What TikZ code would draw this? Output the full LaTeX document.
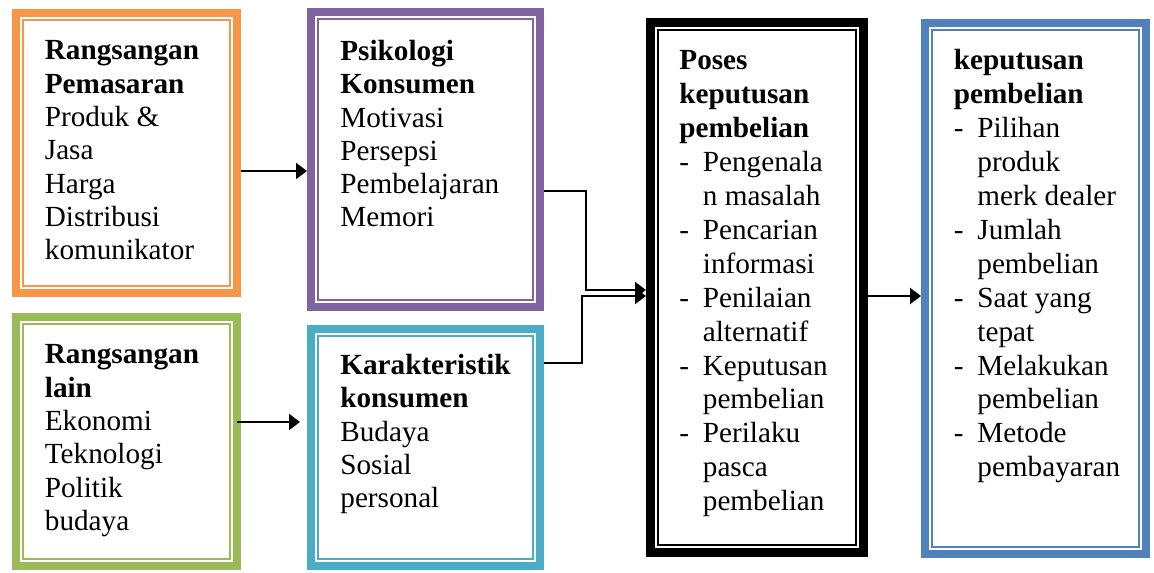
\documentclass[tikz,border=0pt]{standalone}
\usepackage{fontspec}
\setmainfont{Liberation Serif}
\usepackage{tikz}
\usepackage{xcolor}
\usetikzlibrary{arrows.meta,positioning}
\definecolor{boxorange}{RGB}{247,150,70}
\definecolor{boxpurple}{RGB}{128,100,162}
\definecolor{boxgreen}{RGB}{155,187,89}
\definecolor{boxcyan}{RGB}{75,172,198}
\definecolor{boxblue}{RGB}{79,129,189}
\tikzstyle{arrow} = [
    line width=1.1pt,
    -{Triangle[length=5.5pt,width=8pt]},
    draw=black
]
\tikzstyle{frame} = [
    rectangle,
    draw,
    line width=4pt,
    fill=white,
    inner sep=0pt
]
\tikzstyle{boxtext} = [
    anchor=north west,
    inner sep=0pt,
    align=left,
    font=\fontsize{14.6}{16.65}\selectfont
]
\newcommand{\dashitem}{\makebox[11.75pt][l]{-}}
\newcommand{\hangline}{\hspace*{11.75pt}}

\begin{document}
\begin{tikzpicture}[
                x=0.5pt, y=-0.5pt,
                listtext/.style={
                    boxtext,
                    font=\fontsize{14.6}{16.95}\selectfont
                },
                inner line/.style={
                    line width=0.9pt
                }
            ]
                \useasboundingbox (0,0) rectangle (1154,572);
                \node[frame, draw=boxorange, minimum width=110.5pt, minimum height=140pt] (stimulus) at (126.5,153) {};
                \node[frame, draw=boxpurple, minimum width=114.5pt, minimum height=147.5pt] (psych) at (425.5,159.5) {};
                \node[frame, draw=boxgreen, minimum width=110.5pt, minimum height=124.5pt] (other) at (126.5,441.5) {};
                \node[frame, draw=boxcyan, minimum width=114.5pt, minimum height=118.5pt] (trait) at (425.5,447.5) {};
                \node[frame, draw=black, line width=4.5pt, minimum width=106.5pt, minimum height=265pt] (process) at (757,287.5) {};
                \node[frame, draw=boxblue, minimum width=110.5pt, minimum height=265.5pt] (choice) at (1035.5,288.5) {};
                \foreach \b/\c in {stimulus/boxorange, psych/boxpurple, other/boxgreen, trait/boxcyan, choice/boxblue}
                    \draw[inner line, \c] ([shift={(5.5pt,5.5pt)}]\b.south west) rectangle ([shift={(-5.5pt,-5.5pt)}]\b.north east);
                \draw[inner line, line width=1.1pt] ([shift={(5.9pt,5.9pt)}]process.south west) rectangle ([shift={(-5.9pt,-5.9pt)}]process.north east);

                \node[boxtext] (stimulustext) at (44.5,36.2) {\strut\textbf{Rangsangan}\\\textbf{Pemasaran}\\Produk \&\\Jasa\\Harga\\Distribusi\\komunikator};
                \node[boxtext] (psychtext) at (340,36.7) {\strut\textbf{Psikologi}\\\textbf{Konsumen}\\Motivasi\\Persepsi\\Pembelajaran\\Memori};
                \node[boxtext] (othertext) at (44.5,340.2) {\strut\textbf{Rangsangan}\\\textbf{lain}\\Ekonomi\\Teknologi\\Politik\\budaya};
                \node[boxtext] (traittext) at (340,350.7) {\strut\textbf{Karakteristik}\\\textbf{konsumen}\\Budaya\\Sosial\\personal};
                \node[listtext] (processtext) at (679,45.8) {\strut\textbf{Poses}\\\textbf{keputusan}\\\textbf{pembelian}\\\dashitem Pengenala\\\hangline n masalah\\\dashitem Pencarian\\\hangline informasi\\\dashitem Penilaian\\\hangline alternatif\\\dashitem Keputusan\\\hangline pembelian\\\dashitem Perilaku\\\hangline pasca\\\hangline pembelian};
                \node[listtext] (choicetext) at (953.5,45.8) {\strut\textbf{keputusan}\\\textbf{pembelian}\\\dashitem Pilihan\\\hangline produk\\\hangline merk dealer\\\dashitem Jumlah\\\hangline pembelian\\\dashitem Saat yang\\\hangline tepat\\\dashitem Melakukan\\\hangline pembelian\\\dashitem Metode\\\hangline pembayaran};

                \draw[arrow] (stimulus.east |- 0,171) -- (psych.west |- 0,171);
                \draw[arrow, shorten <=-2pt, shorten >=3.5pt] (other.east |- 0,422) -- (trait.west |- 0,422);
                \draw[arrow] (psych.east |- 0,191) -| (586,290) -- (process.west |- 0,290);
                \draw[arrow] (trait.east |- 0,363) -| (582,296) -- (process.west |- 0,296);
                \draw[arrow] (process.east |- 0,296) -- (choice.west |- 0,296);
            \end{tikzpicture}
\end{document}
